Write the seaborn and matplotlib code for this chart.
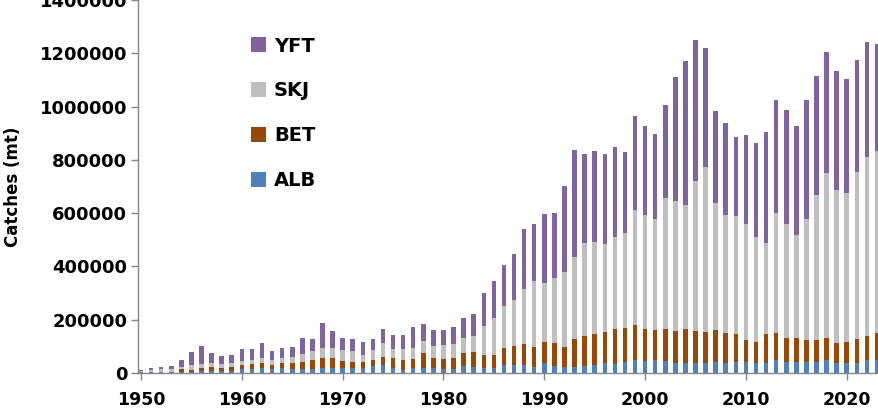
import numpy as np
import pandas as pd
import seaborn as sns
import matplotlib.pyplot as plt
from matplotlib.patches import Patch

years = list(range(1950, 2024))

alb = [1000, 1000, 2000, 2000, 4000, 3000, 5000, 5000, 6000, 7000,
       12500, 13000, 16000, 13000, 16000, 13000, 14000, 13000, 16000, 19000,
       16000, 16000, 16000, 26000, 29000, 16000, 12000, 16000, 19000, 19000,
       15000, 15000, 25000, 20000, 16000, 16000, 29000, 29000, 29000, 22000,
       35000, 26000, 22000, 22000, 26000, 29000, 35000, 33000, 41000, 48000,
       45000, 48000, 45000, 35000, 35000, 35000, 35000, 41000, 35000, 41000,
       41000, 35000, 35000, 48000, 41000, 41000, 41000, 41000, 48000, 35000,
       35000, 35000, 48000, 48000]
bet = [1000, 2000, 2000, 2000, 9000, 9000, 14000, 15000, 13000, 15000,
       16000, 20000, 19000, 16000, 21000, 22000, 28000, 35000, 41000, 35000,
       28000, 25000, 23000, 20000, 31000, 38000, 35000, 35000, 56000, 38000,
       36000, 41000, 48000, 56000, 50000, 50000, 65000, 71000, 80000, 75000,
       79000, 84000, 73000, 103000, 112000, 115000, 118000, 132000, 128000, 132000,
       118000, 113000, 120000, 122000, 130000, 122000, 118000, 119000, 113000, 103000,
       81000, 79000, 109000, 103000, 88000, 88000, 81000, 83000, 84000, 75000,
       81000, 90000, 90000, 100000]
skj = [6000, 8000, 10000, 11000, 10000, 16000, 12000, 15000, 14000, 13000,
       15000, 15000, 19000, 19000, 20000, 25000, 28000, 35000, 34000, 38000,
       41000, 41000, 28000, 40000, 53000, 36000, 43000, 41000, 43000, 44000,
       55000, 53000, 59000, 63000, 110000, 140000, 157000, 173000, 204000, 247000,
       224000, 247000, 284000, 311000, 351000, 348000, 331000, 345000, 355000, 432000,
       429000, 417000, 492000, 489000, 465000, 565000, 621000, 479000, 445000, 446000,
       437000, 397000, 345000, 449000, 430000, 388000, 456000, 543000, 620000, 575000,
       560000, 630000, 674000, 687000]
yft = [4000, 6000, 8000, 12000, 25000, 48000, 69000, 38000, 30000, 31000,
       44000, 40000, 56000, 35000, 36000, 38000, 59000, 45000, 94000, 65000,
       46000, 43000, 50000, 42000, 50000, 50000, 53000, 78000, 65000, 59000,
       55000, 61000, 73000, 80000, 125000, 140000, 155000, 175000, 229000, 216000,
       257000, 242000, 322000, 403000, 332000, 342000, 338000, 337000, 307000, 353000,
       337000, 320000, 351000, 464000, 540000, 529000, 447000, 345000, 345000, 297000,
       336000, 351000, 416000, 427000, 429000, 412000, 447000, 447000, 454000, 450000,
       430000, 420000, 430000, 401000]

species = ['ALB', 'BET', 'SKJ', 'YFT']
colors = {'ALB': '#4F81BD', 'BET': '#984807', 'SKJ': '#BFBFBF', 'YFT': '#8064A2'}

df = pd.DataFrame({'Year': years, 'ALB': alb, 'BET': bet, 'SKJ': skj, 'YFT': yft})
cum = df[species].cumsum(axis=1)
cum['Year'] = df['Year']

sns.set_style('white')
plt.rcParams['font.family'] = ['DejaVu Sans']
plt.rcParams['font.weight'] = 'bold'
plt.rcParams['text.color'] = 'black'
plt.rcParams['xtick.labelcolor'] = 'black'
plt.rcParams['ytick.labelcolor'] = 'black'
plt.rcParams['axes.labelcolor'] = 'black'

fig = plt.figure(figsize=(8.79, 4.11), dpi=100)
left = 138.3 / 879
bottom = 38.3 / 411
ax = fig.add_axes([left, bottom, (881 - 138.3) / 879, 372.4 / 411])

# stacked bars: draw cumulative totals from the top series down
for sp in reversed(species):
    sns.barplot(data=cum, x='Year', y=sp, color=colors[sp], native_scale=True,
                width=0.45, saturation=1, errorbar=None, linewidth=0, ax=ax)

ax.set_xlim(1949.73, 2023.4)
ax.set_ylim(0, 1400000)
ax.set_xticks(range(1950, 2021, 10))
ax.set_yticks(range(0, 1400001, 200000))
ax.set_xticklabels([str(y) for y in range(1950, 2021, 10)], fontsize=12.5,
                   fontweight='bold', color='black')
ax.set_yticklabels([str(v) for v in range(0, 1400001, 200000)], fontsize=13,
                   fontweight='bold', color='black')

for s in ['top', 'right']:
    ax.spines[s].set_visible(False)
for s in ['left', 'bottom']:
    ax.spines[s].set_color('#868686')
    ax.spines[s].set_linewidth(1.0)
ax.tick_params(axis='both', which='major', direction='out', length=5, width=1,
               color='#868686', bottom=True, left=True)
ax.tick_params(axis='x', pad=8)
ax.tick_params(axis='y', pad=3)

ax.set_xlabel('')
ax.set_ylabel('Catches (mt)', fontsize=12, fontweight='bold', color='black')
ax.yaxis.set_label_coords(-0.157, 0.5)

handles = [Patch(facecolor=colors[sp], edgecolor='none') for sp in ['YFT', 'SKJ', 'BET', 'ALB']]
fig.legend(handles, ['YFT', 'SKJ', 'BET', 'ALB'], loc='upper left',
           bbox_to_anchor=(251 / 879, 1 - 36.5 / 411), frameon=False,
           prop={'size': 14, 'weight': 'bold'}, handlelength=0.78, handleheight=0.78,
           handletextpad=0.4, labelspacing=1.33, borderpad=0, borderaxespad=0,
           labelcolor='black')

fig.savefig('out.png', dpi=100)
